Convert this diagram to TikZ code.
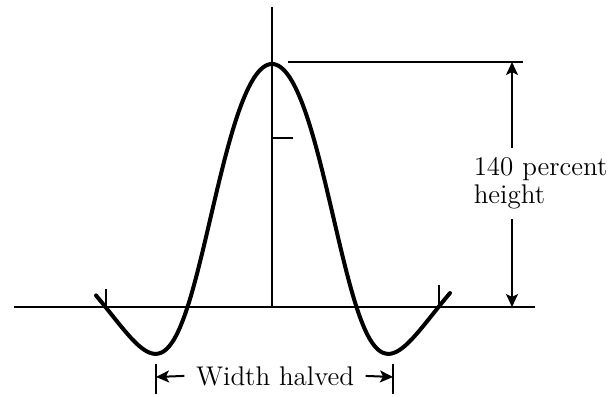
\documentclass[tikz,border=0pt]{standalone}
\usetikzlibrary{arrows.meta}

\tikzset{every picture/.style={line width=0.75pt}}
\tikzset{
    thinline/.style={line width=1pt},
    waveline/.style={line width=2pt, line join=round, line cap=round},
    dimlabel/.style={font=\fontsize{13.5}{14}\selectfont},
}

\begin{document}
\begin{tikzpicture}[x=0.5pt, y=-0.5pt, >={Stealth[length=6.5pt,width=6pt,inset=1.5pt]}]
        \useasboundingbox (0,0) rectangle (615,396);
        % axes
        \draw[line width=1.4pt] (14,307) -- (535,307);
        \draw[thinline] (272,7) -- (272,307);
        \draw[thinline] (272,138) -- (293,138);
        % the wave
        \draw[waveline] plot[domain=-1.76:1.78, samples=160, smooth]
            ({272+100*\x}, {307-243*(1-(\x/0.845)^2)*(1-(\x/1.665)^2)/(1+(\x/1.074)^4)});
        \draw[thinline] (106,289) -- (106,307);
        \draw[thinline] (439,285) -- (439,307);
        % height
        \coordinate (htop) at (512,62);
        \coordinate (hbot) at (512,307);
        \draw[line width=1.2pt] (288,62) -- (523,62);
        \node[dimlabel, align=left, anchor=north west, inner xsep=0pt, inner ysep=4.5pt] (pct) at (473,148) {140 percent\\height};
        \draw[->, thinline] (pct.north -| htop) -- (htop);
        \draw[->, thinline] (pct.south -| hbot) -- (hbot);
        % width
        \coordinate (wl) at (156,377);
        \coordinate (wr) at (393,377);
        \draw[thinline] (wl) ++(0,-13) -- ++(0,30);
        \draw[thinline] (wr) ++(0,-13) -- ++(0,30);
        \node[dimlabel, anchor=base, inner xsep=5.5pt] (wid) at (275,385) {Width halved};
        \draw[->, thinline] (wid.west) -- (wl);
        \draw[->, thinline] (wid.east) -- (wr);
\end{tikzpicture}
\end{document}
